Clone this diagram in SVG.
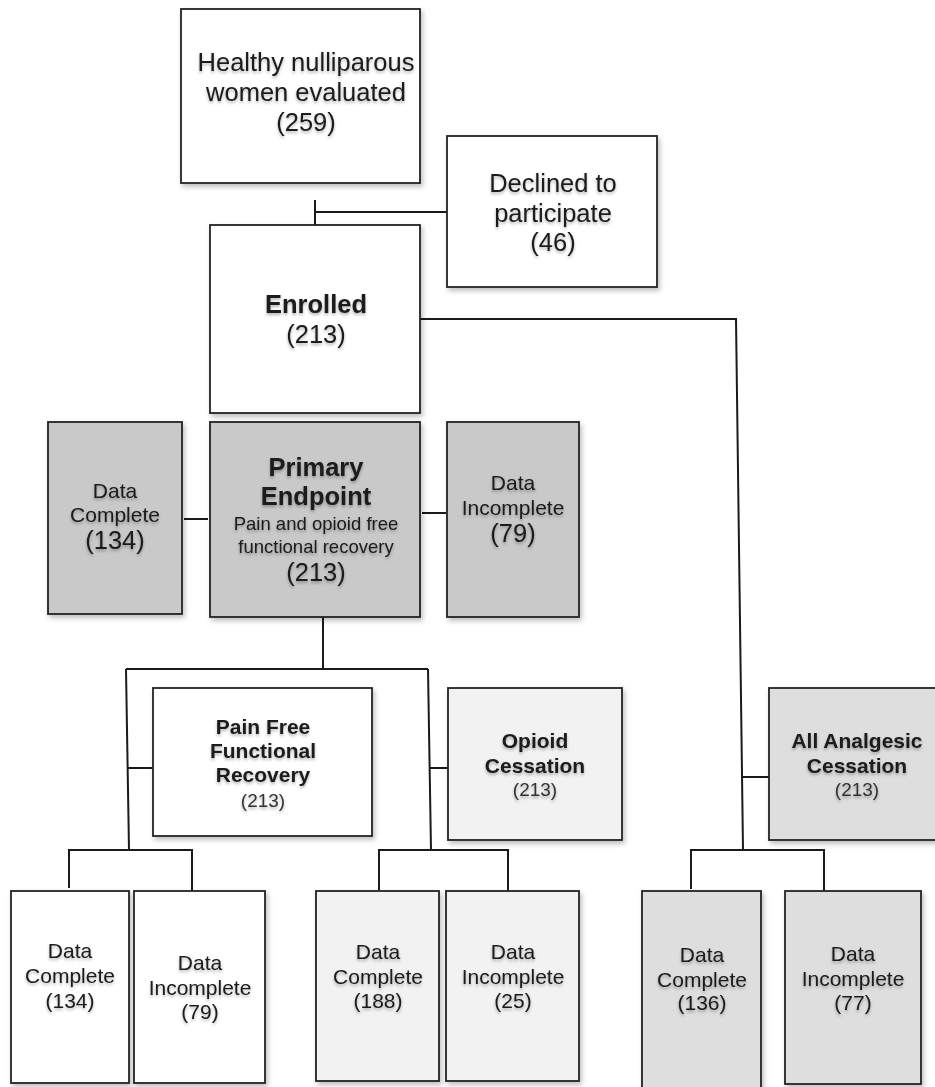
<svg xmlns="http://www.w3.org/2000/svg" width="935" height="1087" viewBox="0 0 935 1087">
<defs>
<filter id="bs" x="-10%" y="-10%" width="130%" height="130%"><feDropShadow dx="2" dy="3" stdDeviation="2.5" flood-color="#000" flood-opacity="0.25"/></filter>
<filter id="ts" x="-10%" y="-20%" width="120%" height="160%"><feDropShadow dx="0" dy="2" stdDeviation="1.5" flood-color="#000" flood-opacity="0.3"/></filter>
</defs>
<style>
.b{stroke:#222;stroke-width:1.8;filter:url(#bs)}
.w{fill:#fff}.g1{fill:#c9c9c9}.g2{fill:#f2f2f2}.g3{fill:#dedede}
text{font-family:"Liberation Sans",Arial,sans-serif;fill:#1a1a1a;text-anchor:middle;filter:url(#ts)}
.t25{font-size:25.5px}.t21{font-size:21px}.t19{font-size:19px;fill:#333}.t18{font-size:18.5px}
.bd{font-weight:bold}
.c{fill:none;stroke:#1a1a1a;stroke-width:2}
</style>
<rect width="935" height="1087" fill="#fff"/>
<g id="connectors">
<path class="c" d="M315 200V225M315 212H447"/>
<path class="c" d="M420 319H736L743 850"/>
<path class="c" d="M184 519H208M422 513H446"/>
<path class="c" d="M323 617V669M126 669H428M126 669L129 850M428 669L431 850M128 768H153M430 768H448"/>
<path class="c" d="M741 777H769"/>
<path class="c" d="M69 888V850H192V891"/>
<path class="c" d="M379 890V850H508V891"/>
<path class="c" d="M691 889V850H824V893"/>
</g>
<g id="healthy"><rect class="b w" x="181" y="9" width="239" height="174"/>
<text class="t25" x="306" y="71">Healthy nulliparous</text><text class="t25" x="306" y="101">women evaluated</text><text class="t25" x="306" y="131">(259)</text></g>
<g id="declined"><rect class="b w" x="447" y="136" width="210" height="151"/>
<text class="t25" x="553" y="192">Declined to</text><text class="t25" x="553" y="222">participate</text><text class="t25" x="553" y="251">(46)</text></g>
<g id="enrolled"><rect class="b w" x="210" y="225" width="210" height="188"/>
<text class="t25 bd" x="316" y="313">Enrolled</text><text class="t25" x="316" y="343">(213)</text></g>
<g id="dc-primary"><rect class="b g1" x="48" y="422" width="134" height="192"/>
<text class="t21" x="115" y="498">Data</text><text class="t21" x="115" y="522">Complete</text><text class="t25" x="115" y="549">(134)</text></g>
<g id="primary"><rect class="b g1" x="210" y="422" width="210" height="195"/>
<text class="t25 bd" x="316" y="476">Primary</text><text class="t25 bd" x="316" y="505">Endpoint</text>
<text class="t18" x="316" y="530">Pain and opioid free</text><text class="t18" x="316" y="553">functional recovery</text><text class="t25" x="316" y="581">(213)</text></g>
<g id="di-primary"><rect class="b g1" x="447" y="422" width="132" height="195"/>
<text class="t21" x="513" y="490">Data</text><text class="t21" x="513" y="515">Incomplete</text><text class="t25" x="513" y="542">(79)</text></g>
<g id="painfree"><rect class="b w" x="153" y="688" width="219" height="148"/>
<text class="t21 bd" x="263" y="734">Pain Free</text><text class="t21 bd" x="263" y="758">Functional</text><text class="t21 bd" x="263" y="782">Recovery</text><text class="t19" x="263" y="807">(213)</text></g>
<g id="opioid"><rect class="b g2" x="448" y="688" width="174" height="152"/>
<text class="t21 bd" x="535" y="748">Opioid</text><text class="t21 bd" x="535" y="773">Cessation</text><text class="t19" x="535" y="796">(213)</text></g>
<g id="analgesic"><rect class="b g3" x="769" y="688" width="178" height="152"/>
<text class="t21 bd" x="857" y="748">All Analgesic</text><text class="t21 bd" x="857" y="773">Cessation</text><text class="t19" x="857" y="796">(213)</text></g>
<g id="pf-complete"><rect class="b w" x="11" y="891" width="118" height="192"/>
<text class="t21" x="70" y="958">Data</text><text class="t21" x="70" y="983">Complete</text><text class="t21" x="70" y="1008">(134)</text></g>
<g id="pf-incomplete"><rect class="b w" x="134" y="891" width="131" height="192"/>
<text class="t21" x="200" y="970">Data</text><text class="t21" x="200" y="995">Incomplete</text><text class="t21" x="200" y="1019">(79)</text></g>
<g id="op-complete"><rect class="b g2" x="316" y="891" width="123" height="190"/>
<text class="t21" x="378" y="959">Data</text><text class="t21" x="378" y="984">Complete</text><text class="t21" x="378" y="1008">(188)</text></g>
<g id="op-incomplete"><rect class="b g2" x="446" y="891" width="133" height="190"/>
<text class="t21" x="513" y="959">Data</text><text class="t21" x="513" y="984">Incomplete</text><text class="t21" x="513" y="1008">(25)</text></g>
<g id="an-complete"><rect class="b g3" x="642" y="891" width="119" height="198"/>
<text class="t21" x="702" y="962">Data</text><text class="t21" x="702" y="987">Complete</text><text class="t21" x="702" y="1010">(136)</text></g>
<g id="an-incomplete"><rect class="b g3" x="785" y="891" width="136" height="193"/>
<text class="t21" x="853" y="961">Data</text><text class="t21" x="853" y="986">Incomplete</text><text class="t21" x="853" y="1010">(77)</text></g>
</svg>
